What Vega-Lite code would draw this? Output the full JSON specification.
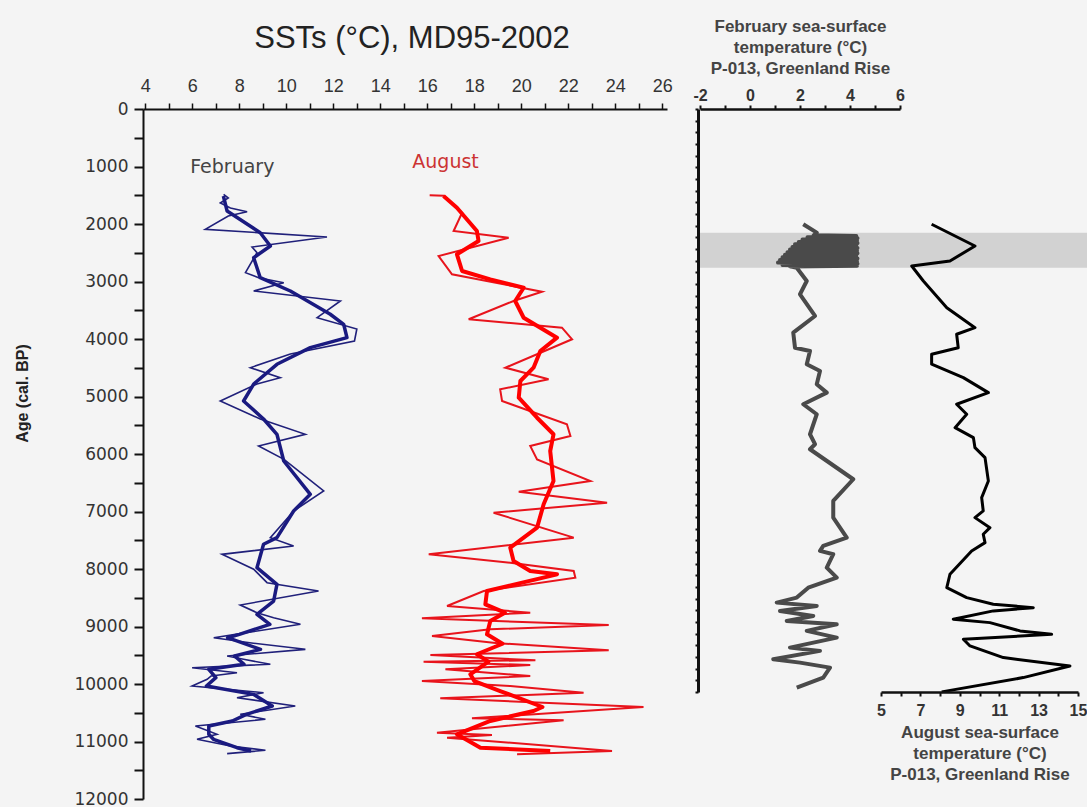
{
"$schema": "https://vega.github.io/schema/vega-lite/v6.json",
"background": "#f4f4f4",
"padding": {"left": 14, "top": 17, "right": 0, "bottom": 0},
"autosize": {"type": "pad"},
"bounds": "flush",
"spacing": 31,
"config": {"view": {"stroke": null}, "axis": {"grid": false, "labelFlush": false}},
"datasets": {
"febRaw": [
{"age":1483,"T":7.33},{"age":1548,"T":7.53},{"age":1635,"T":7.19},{"age":1722,"T":7.62},{"age":1786,"T":8.33},{"age":1861,"T":7.53},{"age":2092,"T":6.55},{"age":2226,"T":11.73},{"age":2400,"T":8.54},{"age":2499,"T":8.75},{"age":2847,"T":8.26},{"age":2934,"T":8.82},{"age":3021,"T":9.89},{"age":3165,"T":8.61},{"age":3339,"T":12.3},{"age":3630,"T":11.31},{"age":3826,"T":13.0},{"age":4035,"T":12.9},{"age":4261,"T":10.17},{"age":4499,"T":8.47},{"age":4673,"T":9.74},{"age":4783,"T":8.75},{"age":5078,"T":7.19},{"age":5391,"T":8.89},{"age":5658,"T":10.81},{"age":5861,"T":8.82},{"age":6093,"T":9.9},{"age":6643,"T":11.59},{"age":6991,"T":10.31},{"age":7456,"T":9.32},{"age":7600,"T":10.31},{"age":7745,"T":7.26},{"age":8005,"T":8.61},{"age":8238,"T":9.18},{"age":8383,"T":11.37},{"age":8626,"T":8.04},{"age":8760,"T":8.75},{"age":8847,"T":9.46},{"age":8962,"T":10.6},{"age":9195,"T":6.91},{"age":9290,"T":8.6},{"age":9397,"T":10.81},{"age":9513,"T":7.48},{"age":9570,"T":8.18},{"age":9657,"T":9.32},{"age":9717,"T":5.99},{"age":9803,"T":7.9},{"age":9860,"T":6.8},{"age":9918,"T":6.63},{"age":10035,"T":5.99},{"age":10151,"T":9.03},{"age":10238,"T":7.9},{"age":10383,"T":10.38},{"age":10527,"T":8.04},{"age":10614,"T":9.11},{"age":10730,"T":6.13},{"age":10875,"T":7.05},{"age":10962,"T":6.2},{"age":11078,"T":7.62},{"age":11153,"T":9.11},{"age":11211,"T":7.48}
],
"febSmooth": [
{"age":1513,"T":7.32},{"age":1774,"T":7.48},{"age":2151,"T":8.89},{"age":2383,"T":9.32},{"age":2586,"T":8.61},{"age":2934,"T":8.89},{"age":3165,"T":10.17},{"age":3570,"T":11.87},{"age":3744,"T":12.44},{"age":3977,"T":12.58},{"age":4151,"T":11.02},{"age":4440,"T":9.6},{"age":4783,"T":8.61},{"age":5078,"T":8.18},{"age":5391,"T":9.03},{"age":5657,"T":9.6},{"age":6122,"T":9.89},{"age":6701,"T":11.02},{"age":6991,"T":10.31},{"age":7455,"T":9.6},{"age":7570,"T":9.03},{"age":7977,"T":8.75},{"age":8267,"T":9.6},{"age":8557,"T":9.46},{"age":8788,"T":8.75},{"age":8962,"T":9.3},{"age":9136,"T":8.0},{"age":9195,"T":7.5},{"age":9397,"T":8.9},{"age":9513,"T":7.8},{"age":9657,"T":8.2},{"age":9744,"T":6.7},{"age":9890,"T":7.0},{"age":10035,"T":6.6},{"age":10180,"T":8.6},{"age":10383,"T":9.4},{"age":10527,"T":8.3},{"age":10643,"T":7.7},{"age":10730,"T":6.7},{"age":10875,"T":6.7},{"age":10962,"T":6.9},{"age":11108,"T":7.9},{"age":11165,"T":8.5}
],
"augRaw": [
{"age":1500,"T":16.1},{"age":1510,"T":16.7},{"age":1803,"T":17.48},{"age":2122,"T":17.12},{"age":2238,"T":19.46},{"age":2557,"T":16.48},{"age":2875,"T":17.05},{"age":3177,"T":20.88},{"age":3339,"T":19.67},{"age":3657,"T":17.76},{"age":3803,"T":21.73},{"age":4005,"T":22.16},{"age":4499,"T":19.32},{"age":4701,"T":21.16},{"age":4875,"T":19.1},{"age":5078,"T":19.18},{"age":5483,"T":21.94},{"age":5687,"T":22.09},{"age":5861,"T":20.38},{"age":6093,"T":20.67},{"age":6470,"T":22.94},{"age":6655,"T":19.89},{"age":6847,"T":23.65},{"age":7021,"T":18.82},{"age":7455,"T":22.23},{"age":7745,"T":16.06},{"age":7890,"T":19.53},{"age":8035,"T":22.23},{"age":8151,"T":22.3},{"age":8383,"T":18.4},{"age":8643,"T":16.84},{"age":8760,"T":20.38},{"age":8858,"T":15.77},{"age":8974,"T":23.72},{"age":9049,"T":18.68},{"age":9165,"T":16.2},{"age":9290,"T":19.0},{"age":9414,"T":23.72},{"age":9496,"T":16.13},{"age":9588,"T":20.6},{"age":9612,"T":15.84},{"age":9670,"T":20.38},{"age":9744,"T":16.77},{"age":9861,"T":20.38},{"age":9948,"T":15.77},{"age":10035,"T":19.53},{"age":10151,"T":22.65},{"age":10249,"T":16.55},{"age":10400,"T":25.2},{"age":10596,"T":17.9},{"age":10631,"T":21.8},{"age":10846,"T":16.41},{"age":10887,"T":18.75},{"age":10933,"T":16.84},{"age":11165,"T":23.86},{"age":11223,"T":19.82}
],
"augSmooth": [
{"age":1513,"T":16.69},{"age":1717,"T":17.26},{"age":2122,"T":18.11},{"age":2296,"T":18.18},{"age":2527,"T":17.26},{"age":2817,"T":17.48},{"age":2962,"T":18.68},{"age":3108,"T":20.1},{"age":3339,"T":19.74},{"age":3630,"T":20.1},{"age":3977,"T":21.52},{"age":4209,"T":20.81},{"age":4499,"T":20.52},{"age":4730,"T":19.96},{"age":5021,"T":19.89},{"age":5369,"T":20.67},{"age":5657,"T":21.37},{"age":5948,"T":21.23},{"age":6470,"T":21.37},{"age":6875,"T":20.95},{"age":7281,"T":20.67},{"age":7629,"T":19.53},{"age":7861,"T":19.67},{"age":8035,"T":20.38},{"age":8093,"T":21.52},{"age":8383,"T":18.54},{"age":8614,"T":18.47},{"age":8760,"T":19.3},{"age":8904,"T":18.68},{"age":9136,"T":18.54},{"age":9300,"T":19.2},{"age":9483,"T":18.11},{"age":9612,"T":18.6},{"age":9831,"T":17.83},{"age":9948,"T":18.0},{"age":10122,"T":19.1},{"age":10400,"T":20.9},{"age":10470,"T":20.52},{"age":10643,"T":18.68},{"age":10875,"T":17.26},{"age":11108,"T":18.26},{"age":11165,"T":21.23}
],
"labels": [
{"label":"February","T":5.91,"age":1113},
{"label":"August","T":15.36,"age":1026}
],
"band": [{"age":2121,"age2":2722}],
"p013Feb": [
{"age":1977,"T":2.13},{"age":2121,"T":2.67},{"age":2165,"T":2.55},{"age":2180,"T":4.25},{"age":2200,"T":2.3},{"age":2215,"T":4.3},{"age":2240,"T":2.1},{"age":2255,"T":4.28},{"age":2280,"T":1.95},{"age":2300,"T":4.3},{"age":2320,"T":1.8},{"age":2340,"T":4.25},{"age":2365,"T":1.7},{"age":2385,"T":4.3},{"age":2410,"T":1.6},{"age":2430,"T":4.28},{"age":2455,"T":1.5},{"age":2475,"T":4.3},{"age":2500,"T":1.4},{"age":2520,"T":4.25},{"age":2545,"T":1.3},{"age":2565,"T":4.3},{"age":2590,"T":1.2},{"age":2610,"T":4.28},{"age":2635,"T":1.12},{"age":2655,"T":4.3},{"age":2675,"T":1.3},{"age":2690,"T":4.28},{"age":2700,"T":1.6},{"age":2722,"T":1.87},{"age":2950,"T":2.27},{"age":3178,"T":2.0},{"age":3550,"T":2.6},{"age":3836,"T":1.73},{"age":4094,"T":1.8},{"age":4150,"T":2.4},{"age":4378,"T":2.27},{"age":4493,"T":2.8},{"age":4721,"T":2.67},{"age":4865,"T":3.07},{"age":5064,"T":2.13},{"age":5236,"T":2.67},{"age":5579,"T":2.4},{"age":5750,"T":2.6},{"age":5836,"T":2.4},{"age":6351,"T":4.13},{"age":6723,"T":3.33},{"age":7009,"T":3.33},{"age":7352,"T":3.87},{"age":7495,"T":2.93},{"age":7580,"T":2.8},{"age":7637,"T":3.33},{"age":7866,"T":3.07},{"age":8038,"T":3.47},{"age":8210,"T":2.33},{"age":8381,"T":1.87},{"age":8467,"T":1.07},{"age":8524,"T":2.67},{"age":8609,"T":1.2},{"age":8695,"T":2.53},{"age":8781,"T":1.47},{"age":8838,"T":3.47},{"age":8952,"T":2.27},{"age":9067,"T":3.47},{"age":9239,"T":1.6},{"age":9295,"T":2.8},{"age":9437,"T":0.93},{"age":9496,"T":2.0},{"age":9582,"T":3.2},{"age":9753,"T":2.93},{"age":9925,"T":1.87}
],
"p013Aug": [
{"age":1977,"T":7.57},{"age":2350,"T":9.77},{"age":2607,"T":8.5},{"age":2693,"T":6.56},{"age":2950,"T":7.15},{"age":3408,"T":8.34},{"age":3751,"T":9.77},{"age":3864,"T":8.84},{"age":4094,"T":8.92},{"age":4207,"T":7.57},{"age":4378,"T":7.57},{"age":4608,"T":9.18},{"age":4865,"T":10.45},{"age":5064,"T":8.84},{"age":5236,"T":9.35},{"age":5466,"T":8.76},{"age":5637,"T":9.69},{"age":5809,"T":9.77},{"age":5980,"T":10.28},{"age":6380,"T":10.45},{"age":6666,"T":10.11},{"age":6894,"T":10.19},{"age":7009,"T":9.77},{"age":7181,"T":10.53},{"age":7294,"T":10.19},{"age":7438,"T":10.28},{"age":7580,"T":9.6},{"age":7980,"T":8.5},{"age":8210,"T":8.34},{"age":8381,"T":9.35},{"age":8494,"T":10.7},{"age":8553,"T":12.73},{"age":8609,"T":10.7},{"age":8751,"T":8.67},{"age":8810,"T":10.53},{"age":8952,"T":12.06},{"age":9009,"T":13.66},{"age":9095,"T":9.18},{"age":9210,"T":9.52},{"age":9410,"T":11.21},{"age":9553,"T":14.59},{"age":9753,"T":12.22},{"age":9998,"T":8.08}
]
},
"hconcat": [
{
"width": 524,
"height": 690,
"title": {"text": "SSTs (°C), MD95-2002", "font": "Liberation Sans", "fontSize": 31, "fontWeight": "normal", "color": "#222222", "offset": 22, "dx": 7},
"encoding": {
"x": {"field": "T", "type": "quantitative",
"scale": {"domain": [3.9, 26.2], "nice": false, "zero": false},
"axis": {"orient": "top", "values": [4,5,6,7,8,9,10,11,12,13,14,15,16,17,18,19,20,21,22,23,24,25,26],
"labelExpr": "datum.value % 2 === 0 ? datum.label : ''",
"labelFont": "Liberation Sans", "labelFontSize": 18, "labelColor": "#333333",
"tickSize": 6, "tickColor": "#111111", "tickWidth": 1.5, "domainColor": "#111111", "domainWidth": 2,
"labelPadding": 8, "title": null, "zindex": 1,
"encode": {"ticks": {"update": {"y": {"signal": "datum.value % 2 === 0 ? 5 : 0"}, "y2": {"signal": "datum.value % 2 === 0 ? -6 : -3"}}}}}},
"y": {"field": "age", "type": "quantitative",
"scale": {"domain": [0, 12000], "reverse": true, "nice": false, "zero": false},
"axis": {"orient": "left", "values": [0,500,1000,1500,2000,2500,3000,3500,4000,4500,5000,5500,6000,6500,7000,7500,8000,8500,9000,9500,10000,10500,11000,11500,12000],
"format": "d", "labelExpr": "datum.value % 1000 === 0 ? datum.label : ''",
"labelFont": "DejaVu Sans", "labelFontSize": 17, "labelColor": "#333333",
"tickSize": 9, "tickColor": "#111111", "tickWidth": 2, "domainColor": "#111111", "domainWidth": 2,
"labelPadding": 6, "zindex": 1,
"title": "Age (cal. BP)", "titleFont": "Liberation Sans", "titleFontSize": 16, "titleFontWeight": "bold", "titleColor": "#222222",
"titleX": -121, "titleY": 284, "titleAngle": -90, "titleAlign": "center", "titleBaseline": "middle",
"encode": {"ticks": {"update": {"x2": {"signal": "datum.value % 1000 === 0 ? -9 : -6"}}}}}}
},
"layer": [
{"data": {"name": "febRaw"}, "mark": {"type": "line", "color": "#20207a", "strokeWidth": 1.6}, "encoding": {"order": {"field": "age", "type": "quantitative"}}},
{"data": {"name": "febSmooth"}, "mark": {"type": "line", "color": "#1a1a80", "strokeWidth": 3.5, "strokeJoin": "round"}, "encoding": {"order": {"field": "age", "type": "quantitative"}}},
{"data": {"name": "augRaw"}, "mark": {"type": "line", "color": "#e8141c", "strokeWidth": 2}, "encoding": {"order": {"field": "age", "type": "quantitative"}}},
{"data": {"name": "augSmooth"}, "mark": {"type": "line", "color": "#ff0000", "strokeWidth": 4, "strokeJoin": "round"}, "encoding": {"order": {"field": "age", "type": "quantitative"}}},
{"data": {"name": "labels"}, "mark": {"type": "text", "align": "left", "baseline": "alphabetic", "font": "DejaVu Sans", "fontSize": 19},
"encoding": {"text": {"field": "label"}, "color": {"field": "label", "type": "nominal", "scale": {"domain": ["February", "August"], "range": ["#444444", "#cc3333"]}, "legend": null}}}
]
},
{
"width": 389,
"height": 583,
"encoding": {
"y": {"field": "age", "type": "quantitative",
"scale": {"domain": [0, 10000], "reverse": true, "nice": false, "zero": false},
"axis": {"orient": "left", "values": [0,200,400,600,800,1000,1200,1400,1600,1800,2000,2200,2400,2600,2800,3000,3200,3400,3600,3800,4000,4200,4400,4600,4800,5000,5200,5400,5600,5800,6000,6200,6400,6600,6800,7000,7200,7400,7600,7800,8000,8200,8400,8600,8800,9000,9200,9400,9600,9800,10000],
"labels": false, "title": null, "tickSize": 3, "tickWidth": 2, "tickColor": "#111111", "domainColor": "#111111", "domainWidth": 3, "zindex": 1}}
},
"layer": [
{"data": {"name": "band"}, "mark": {"type": "rect", "color": "#d2d2d2"}, "encoding": {"y2": {"field": "age2"}}},
{"data": {"name": "p013Feb"}, "mark": {"type": "line", "color": "#4a4a4a", "strokeWidth": 4, "strokeJoin": "round"},
"encoding": {
"x": {"field": "T", "type": "quantitative", "scale": {"domain": [-2, 6], "range": [2, 202], "nice": false, "zero": false},
"axis": {"orient": "top", "values": [-2,-1,0,1,2,3,4,5,6],
"labelExpr": "datum.value % 2 === 0 ? '' + datum.value : ''",
"labelFont": "Liberation Sans", "labelFontSize": 16, "labelFontWeight": "bold", "labelColor": "#333333",
"tickSize": 4, "tickWidth": 2, "tickColor": "#111111", "domainColor": "#111111", "domainWidth": 2.5, "labelPadding": 2, "zindex": 1,
"title": ["February sea-surface", "temperature (°C)", "P-013, Greenland Rise"],
"titleFont": "Liberation Sans", "titleFontSize": 17, "titleFontWeight": "bold", "titleColor": "#444444", "titleLineHeight": 21, "titlePadding": 10}},
"order": {"field": "age", "type": "quantitative"}}},
{"data": {"name": "p013Aug"}, "mark": {"type": "line", "color": "#000000", "strokeWidth": 3, "strokeJoin": "round"},
"encoding": {
"x": {"field": "T", "type": "quantitative", "scale": {"domain": [5, 15], "range": [183, 380], "nice": false, "zero": false},
"axis": {"orient": "bottom", "values": [5,6,7,8,9,10,11,12,13,14,15],
"labelExpr": "datum.value % 2 === 1 ? '' + datum.value : ''",
"labelFont": "Liberation Sans", "labelFontSize": 16, "labelFontWeight": "bold", "labelColor": "#333333",
"tickSize": 4, "tickWidth": 2, "tickColor": "#111111", "domainColor": "#111111", "domainWidth": 2.5, "labelPadding": 6, "zindex": 1,
"title": ["August sea-surface", "temperature (°C)", "P-013, Greenland Rise"],
"titleFont": "Liberation Sans", "titleFontSize": 17, "titleFontWeight": "bold", "titleColor": "#444444", "titleLineHeight": 21, "titlePadding": 6}},
"order": {"field": "age", "type": "quantitative"}}}
],
"resolve": {"scale": {"x": "independent"}, "axis": {"x": "independent"}}
}
]
}
